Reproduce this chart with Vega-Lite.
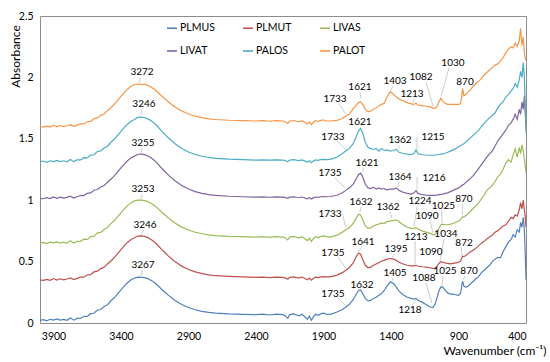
{
  "$schema": "https://vega.github.io/schema/vega-lite/v6.json",
  "width": 486,
  "height": 307,
  "autosize": "none",
  "padding": {"left": 40, "top": 16, "right": 24, "bottom": 39},
  "background": "white",
  "config": {
    "view": {"stroke": "#8c8c8c", "strokeWidth": 1},
    "font": "Lato"
  },
  "datasets": {
    "spectra": [
      {"w":4000,"PLMUS":0.022,"PLMUT":0.350,"LIVAS":0.650,"LIVAT":1.015,"PALOS":1.313,"PALOT":1.598},
      {"w":3975,"PLMUS":0.028,"PLMUT":0.347,"LIVAS":0.656,"LIVAT":1.012,"PALOS":1.319,"PALOT":1.595},
      {"w":3950,"PLMUS":0.018,"PLMUT":0.355,"LIVAS":0.646,"LIVAT":1.020,"PALOS":1.309,"PALOT":1.603},
      {"w":3925,"PLMUS":0.030,"PLMUT":0.348,"LIVAS":0.658,"LIVAT":1.013,"PALOS":1.321,"PALOT":1.596},
      {"w":3900,"PLMUS":0.024,"PLMUT":0.362,"LIVAS":0.652,"LIVAT":1.027,"PALOS":1.315,"PALOT":1.610},
      {"w":3875,"PLMUS":0.033,"PLMUT":0.350,"LIVAS":0.661,"LIVAT":1.015,"PALOS":1.324,"PALOT":1.598},
      {"w":3850,"PLMUS":0.023,"PLMUT":0.360,"LIVAS":0.651,"LIVAT":1.025,"PALOS":1.314,"PALOT":1.608},
      {"w":3825,"PLMUS":0.030,"PLMUT":0.352,"LIVAS":0.658,"LIVAT":1.017,"PALOS":1.321,"PALOT":1.600},
      {"w":3800,"PLMUS":0.022,"PLMUT":0.358,"LIVAS":0.650,"LIVAT":1.023,"PALOS":1.313,"PALOT":1.606},
      {"w":3775,"PLMUS":0.041,"PLMUT":0.367,"LIVAS":0.669,"LIVAT":1.032,"PALOS":1.332,"PALOT":1.615},
      {"w":3750,"PLMUS":0.023,"PLMUT":0.353,"LIVAS":0.651,"LIVAT":1.018,"PALOS":1.314,"PALOT":1.601},
      {"w":3725,"PLMUS":0.037,"PLMUT":0.363,"LIVAS":0.665,"LIVAT":1.028,"PALOS":1.328,"PALOT":1.611},
      {"w":3700,"PLMUS":0.037,"PLMUT":0.373,"LIVAS":0.665,"LIVAT":1.038,"PALOS":1.328,"PALOT":1.621},
      {"w":3675,"PLMUS":0.055,"PLMUT":0.373,"LIVAS":0.683,"LIVAT":1.038,"PALOS":1.346,"PALOT":1.621},
      {"w":3650,"PLMUS":0.053,"PLMUT":0.391,"LIVAS":0.681,"LIVAT":1.056,"PALOS":1.344,"PALOT":1.639},
      {"w":3625,"PLMUS":0.076,"PLMUT":0.394,"LIVAS":0.704,"LIVAT":1.059,"PALOS":1.367,"PALOT":1.642},
      {"w":3600,"PLMUS":0.079,"PLMUT":0.416,"LIVAS":0.707,"LIVAT":1.081,"PALOS":1.370,"PALOT":1.664},
      {"w":3575,"PLMUS":0.106,"PLMUT":0.422,"LIVAS":0.734,"LIVAT":1.087,"PALOS":1.397,"PALOT":1.670},
      {"w":3550,"PLMUS":0.110,"PLMUT":0.443,"LIVAS":0.738,"LIVAT":1.108,"PALOS":1.401,"PALOT":1.691},
      {"w":3525,"PLMUS":0.134,"PLMUT":0.454,"LIVAS":0.762,"LIVAT":1.119,"PALOS":1.425,"PALOT":1.702},
      {"w":3500,"PLMUS":0.149,"PLMUT":0.481,"LIVAS":0.777,"LIVAT":1.146,"PALOS":1.440,"PALOT":1.729},
      {"w":3475,"PLMUS":0.181,"PLMUT":0.505,"LIVAS":0.809,"LIVAT":1.170,"PALOS":1.472,"PALOT":1.753},
      {"w":3450,"PLMUS":0.205,"PLMUT":0.533,"LIVAS":0.833,"LIVAT":1.198,"PALOS":1.496,"PALOT":1.781},
      {"w":3425,"PLMUS":0.237,"PLMUT":0.565,"LIVAS":0.865,"LIVAT":1.230,"PALOS":1.528,"PALOT":1.813},
      {"w":3400,"PLMUS":0.270,"PLMUT":0.598,"LIVAS":0.898,"LIVAT":1.263,"PALOS":1.561,"PALOT":1.846},
      {"w":3375,"PLMUS":0.302,"PLMUT":0.630,"LIVAS":0.930,"LIVAT":1.295,"PALOS":1.593,"PALOT":1.878},
      {"w":3350,"PLMUS":0.330,"PLMUT":0.658,"LIVAS":0.958,"LIVAT":1.323,"PALOS":1.621,"PALOT":1.906},
      {"w":3325,"PLMUS":0.352,"PLMUT":0.680,"LIVAS":0.980,"LIVAT":1.345,"PALOS":1.643,"PALOT":1.928},
      {"w":3300,"PLMUS":0.366,"PLMUT":0.694,"LIVAS":0.994,"LIVAT":1.359,"PALOS":1.657,"PALOT":1.942},
      {"w":3275,"PLMUS":0.373,"PLMUT":0.708,"LIVAS":1.000,"LIVAT":1.374,"PALOS":1.676,"PALOT":1.946},
      {"w":3250,"PLMUS":0.372,"PLMUT":0.709,"LIVAS":1.001,"LIVAT":1.375,"PALOS":1.677,"PALOT":1.944},
      {"w":3225,"PLMUS":0.370,"PLMUT":0.705,"LIVAS":0.997,"LIVAT":1.371,"PALOS":1.673,"PALOT":1.943},
      {"w":3200,"PLMUS":0.361,"PLMUT":0.695,"LIVAS":0.988,"LIVAT":1.360,"PALOS":1.662,"PALOT":1.934},
      {"w":3175,"PLMUS":0.346,"PLMUT":0.678,"LIVAS":0.973,"LIVAT":1.343,"PALOS":1.645,"PALOT":1.919},
      {"w":3150,"PLMUS":0.327,"PLMUT":0.658,"LIVAS":0.955,"LIVAT":1.322,"PALOS":1.624,"PALOT":1.901},
      {"w":3125,"PLMUS":0.303,"PLMUT":0.631,"LIVAS":0.931,"LIVAT":1.294,"PALOS":1.596,"PALOT":1.877},
      {"w":3100,"PLMUS":0.275,"PLMUT":0.600,"LIVAS":0.904,"LIVAT":1.262,"PALOS":1.564,"PALOT":1.850},
      {"w":3075,"PLMUS":0.251,"PLMUT":0.574,"LIVAS":0.880,"LIVAT":1.234,"PALOS":1.536,"PALOT":1.826},
      {"w":3050,"PLMUS":0.227,"PLMUT":0.547,"LIVAS":0.856,"LIVAT":1.206,"PALOS":1.508,"PALOT":1.802},
      {"w":3025,"PLMUS":0.205,"PLMUT":0.523,"LIVAS":0.835,"LIVAT":1.182,"PALOS":1.484,"PALOT":1.780},
      {"w":3000,"PLMUS":0.184,"PLMUT":0.500,"LIVAS":0.814,"LIVAT":1.158,"PALOS":1.460,"PALOT":1.759},
      {"w":2950,"PLMUS":0.150,"PLMUT":0.463,"LIVAS":0.781,"LIVAT":1.119,"PALOS":1.421,"PALOT":1.726},
      {"w":2900,"PLMUS":0.126,"PLMUT":0.436,"LIVAS":0.757,"LIVAT":1.091,"PALOS":1.393,"PALOT":1.702},
      {"w":2850,"PLMUS":0.108,"PLMUT":0.416,"LIVAS":0.739,"LIVAT":1.070,"PALOS":1.372,"PALOT":1.684},
      {"w":2800,"PLMUS":0.095,"PLMUT":0.402,"LIVAS":0.727,"LIVAT":1.056,"PALOS":1.358,"PALOT":1.672},
      {"w":2750,"PLMUS":0.086,"PLMUT":0.392,"LIVAS":0.718,"LIVAT":1.046,"PALOS":1.348,"PALOT":1.663},
      {"w":2700,"PLMUS":0.080,"PLMUT":0.385,"LIVAS":0.712,"LIVAT":1.039,"PALOS":1.341,"PALOT":1.657},
      {"w":2600,"PLMUS":0.074,"PLMUT":0.379,"LIVAS":0.706,"LIVAT":1.032,"PALOS":1.334,"PALOT":1.651},
      {"w":2500,"PLMUS":0.071,"PLMUT":0.375,"LIVAS":0.703,"LIVAT":1.028,"PALOS":1.330,"PALOT":1.648},
      {"w":2400,"PLMUS":0.068,"PLMUT":0.372,"LIVAS":0.700,"LIVAT":1.025,"PALOS":1.327,"PALOT":1.645},
      {"w":2350,"PLMUS":0.072,"PLMUT":0.374,"LIVAS":0.704,"LIVAT":1.027,"PALOS":1.329,"PALOT":1.648},
      {"w":2300,"PLMUS":0.065,"PLMUT":0.370,"LIVAS":0.698,"LIVAT":1.024,"PALOS":1.326,"PALOT":1.643},
      {"w":2250,"PLMUS":0.072,"PLMUT":0.374,"LIVAS":0.704,"LIVAT":1.027,"PALOS":1.329,"PALOT":1.648},
      {"w":2200,"PLMUS":0.068,"PLMUT":0.372,"LIVAS":0.700,"LIVAT":1.025,"PALOS":1.327,"PALOT":1.645},
      {"w":2180,"PLMUS":0.056,"PLMUT":0.366,"LIVAS":0.690,"LIVAT":1.021,"PALOS":1.321,"PALOT":1.637},
      {"w":2165,"PLMUS":0.038,"PLMUT":0.356,"LIVAS":0.676,"LIVAT":1.015,"PALOS":1.313,"PALOT":1.625},
      {"w":2150,"PLMUS":0.068,"PLMUT":0.372,"LIVAS":0.700,"LIVAT":1.025,"PALOS":1.327,"PALOT":1.645},
      {"w":2120,"PLMUS":0.074,"PLMUT":0.375,"LIVAS":0.705,"LIVAT":1.027,"PALOS":1.330,"PALOT":1.649},
      {"w":2100,"PLMUS":0.065,"PLMUT":0.370,"LIVAS":0.698,"LIVAT":1.024,"PALOS":1.326,"PALOT":1.643},
      {"w":2080,"PLMUS":0.059,"PLMUT":0.367,"LIVAS":0.693,"LIVAT":1.022,"PALOS":1.323,"PALOT":1.639},
      {"w":2060,"PLMUS":0.071,"PLMUT":0.374,"LIVAS":0.702,"LIVAT":1.026,"PALOS":1.328,"PALOT":1.647},
      {"w":2040,"PLMUS":0.053,"PLMUT":0.364,"LIVAS":0.688,"LIVAT":1.020,"PALOS":1.320,"PALOT":1.635},
      {"w":2020,"PLMUS":0.030,"PLMUT":0.352,"LIVAS":0.670,"LIVAT":1.012,"PALOS":1.310,"PALOT":1.620},
      {"w":2005,"PLMUS":0.056,"PLMUT":0.366,"LIVAS":0.690,"LIVAT":1.021,"PALOS":1.321,"PALOT":1.637},
      {"w":1990,"PLMUS":0.023,"PLMUT":0.348,"LIVAS":0.664,"LIVAT":1.010,"PALOS":1.306,"PALOT":1.615},
      {"w":1975,"PLMUS":0.050,"PLMUT":0.362,"LIVAS":0.686,"LIVAT":1.019,"PALOS":1.319,"PALOT":1.633},
      {"w":1960,"PLMUS":0.071,"PLMUT":0.374,"LIVAS":0.702,"LIVAT":1.026,"PALOS":1.328,"PALOT":1.647},
      {"w":1940,"PLMUS":0.062,"PLMUT":0.369,"LIVAS":0.695,"LIVAT":1.023,"PALOS":1.324,"PALOT":1.641},
      {"w":1920,"PLMUS":0.075,"PLMUT":0.376,"LIVAS":0.706,"LIVAT":1.028,"PALOS":1.331,"PALOT":1.650},
      {"w":1900,"PLMUS":0.080,"PLMUT":0.378,"LIVAS":0.710,"LIVAT":1.029,"PALOS":1.333,"PALOT":1.653},
      {"w":1880,"PLMUS":0.072,"PLMUT":0.375,"LIVAS":0.703,"LIVAT":1.028,"PALOS":1.330,"PALOT":1.646},
      {"w":1850,"PLMUS":0.070,"PLMUT":0.375,"LIVAS":0.700,"LIVAT":1.030,"PALOS":1.333,"PALOT":1.645},
      {"w":1800,"PLMUS":0.090,"PLMUT":0.390,"LIVAS":0.715,"LIVAT":1.040,"PALOS":1.350,"PALOT":1.650},
      {"w":1760,"PLMUS":0.110,"PLMUT":0.410,"LIVAS":0.740,"LIVAT":1.060,"PALOS":1.380,"PALOT":1.665},
      {"w":1735,"PLMUS":0.130,"PLMUT":0.430,"LIVAS":0.760,"LIVAT":1.080,"PALOS":1.400,"PALOT":1.685},
      {"w":1710,"PLMUS":0.150,"PLMUT":0.450,"LIVAS":0.775,"LIVAT":1.100,"PALOS":1.420,"PALOT":1.700},
      {"w":1680,"PLMUS":0.190,"PLMUT":0.490,"LIVAS":0.810,"LIVAT":1.130,"PALOS":1.460,"PALOT":1.745},
      {"w":1660,"PLMUS":0.230,"PLMUT":0.535,"LIVAS":0.850,"LIVAT":1.170,"PALOS":1.510,"PALOT":1.770},
      {"w":1640,"PLMUS":0.265,"PLMUT":0.570,"LIVAS":0.885,"LIVAT":1.210,"PALOS":1.565,"PALOT":1.795},
      {"w":1625,"PLMUS":0.270,"PLMUT":0.560,"LIVAS":0.880,"LIVAT":1.220,"PALOS":1.585,"PALOT":1.800},
      {"w":1610,"PLMUS":0.240,"PLMUT":0.520,"LIVAS":0.840,"LIVAT":1.190,"PALOS":1.550,"PALOT":1.780},
      {"w":1590,"PLMUS":0.200,"PLMUT":0.470,"LIVAS":0.790,"LIVAT":1.130,"PALOS":1.470,"PALOT":1.740},
      {"w":1570,"PLMUS":0.180,"PLMUT":0.450,"LIVAS":0.770,"LIVAT":1.100,"PALOS":1.430,"PALOT":1.720},
      {"w":1550,"PLMUS":0.185,"PLMUT":0.455,"LIVAS":0.775,"LIVAT":1.095,"PALOS":1.420,"PALOT":1.725},
      {"w":1530,"PLMUS":0.200,"PLMUT":0.470,"LIVAS":0.790,"LIVAT":1.105,"PALOS":1.415,"PALOT":1.740},
      {"w":1510,"PLMUS":0.210,"PLMUT":0.480,"LIVAS":0.800,"LIVAT":1.090,"PALOS":1.420,"PALOT":1.750},
      {"w":1490,"PLMUS":0.225,"PLMUT":0.490,"LIVAS":0.805,"LIVAT":1.100,"PALOS":1.400,"PALOT":1.770},
      {"w":1470,"PLMUS":0.240,"PLMUT":0.505,"LIVAS":0.815,"LIVAT":1.090,"PALOS":1.420,"PALOT":1.780},
      {"w":1450,"PLMUS":0.265,"PLMUT":0.510,"LIVAS":0.810,"LIVAT":1.095,"PALOS":1.405,"PALOT":1.790},
      {"w":1430,"PLMUS":0.300,"PLMUT":0.520,"LIVAS":0.825,"LIVAT":1.085,"PALOS":1.410,"PALOT":1.840},
      {"w":1405,"PLMUS":0.335,"PLMUT":0.525,"LIVAS":0.830,"LIVAT":1.090,"PALOS":1.400,"PALOT":1.885},
      {"w":1380,"PLMUS":0.320,"PLMUT":0.520,"LIVAS":0.835,"LIVAT":1.090,"PALOS":1.405,"PALOT":1.860},
      {"w":1360,"PLMUS":0.290,"PLMUT":0.510,"LIVAS":0.840,"LIVAT":1.100,"PALOS":1.415,"PALOT":1.840},
      {"w":1340,"PLMUS":0.260,"PLMUT":0.495,"LIVAS":0.825,"LIVAT":1.080,"PALOS":1.390,"PALOT":1.825},
      {"w":1310,"PLMUS":0.230,"PLMUT":0.480,"LIVAS":0.800,"LIVAT":1.065,"PALOS":1.380,"PALOT":1.810},
      {"w":1280,"PLMUS":0.210,"PLMUT":0.470,"LIVAS":0.780,"LIVAT":1.055,"PALOS":1.375,"PALOT":1.795},
      {"w":1250,"PLMUS":0.200,"PLMUT":0.465,"LIVAS":0.770,"LIVAT":1.050,"PALOS":1.372,"PALOT":1.785},
      {"w":1230,"PLMUS":0.195,"PLMUT":0.465,"LIVAS":0.770,"LIVAT":1.060,"PALOS":1.380,"PALOT":1.780},
      {"w":1215,"PLMUS":0.200,"PLMUT":0.470,"LIVAS":0.775,"LIVAT":1.078,"PALOS":1.410,"PALOT":1.790},
      {"w":1200,"PLMUS":0.185,"PLMUT":0.462,"LIVAS":0.765,"LIVAT":1.055,"PALOS":1.378,"PALOT":1.775},
      {"w":1170,"PLMUS":0.170,"PLMUT":0.458,"LIVAS":0.750,"LIVAT":1.045,"PALOS":1.370,"PALOT":1.770},
      {"w":1140,"PLMUS":0.150,"PLMUT":0.455,"LIVAS":0.740,"LIVAT":1.042,"PALOS":1.368,"PALOT":1.765},
      {"w":1110,"PLMUS":0.130,"PLMUT":0.450,"LIVAS":0.730,"LIVAT":1.040,"PALOS":1.366,"PALOT":1.760},
      {"w":1090,"PLMUS":0.125,"PLMUT":0.445,"LIVAS":0.720,"LIVAT":1.040,"PALOS":1.366,"PALOT":1.750},
      {"w":1075,"PLMUS":0.150,"PLMUT":0.445,"LIVAS":0.720,"LIVAT":1.040,"PALOS":1.368,"PALOT":1.748},
      {"w":1060,"PLMUS":0.200,"PLMUT":0.460,"LIVAS":0.735,"LIVAT":1.042,"PALOS":1.370,"PALOT":1.760},
      {"w":1045,"PLMUS":0.260,"PLMUT":0.485,"LIVAS":0.770,"LIVAT":1.045,"PALOS":1.372,"PALOT":1.800},
      {"w":1030,"PLMUS":0.295,"PLMUT":0.500,"LIVAS":0.800,"LIVAT":1.048,"PALOS":1.375,"PALOT":1.830},
      {"w":1015,"PLMUS":0.290,"PLMUT":0.495,"LIVAS":0.805,"LIVAT":1.050,"PALOS":1.378,"PALOT":1.805},
      {"w":1000,"PLMUS":0.270,"PLMUT":0.490,"LIVAS":0.800,"LIVAT":1.055,"PALOS":1.380,"PALOT":1.790},
      {"w":980,"PLMUS":0.245,"PLMUT":0.485,"LIVAS":0.800,"LIVAT":1.060,"PALOS":1.390,"PALOT":1.780},
      {"w":960,"PLMUS":0.235,"PLMUT":0.482,"LIVAS":0.805,"LIVAT":1.070,"PALOS":1.400,"PALOT":1.780},
      {"w":940,"PLMUS":0.235,"PLMUT":0.485,"LIVAS":0.810,"LIVAT":1.080,"PALOS":1.410,"PALOT":1.780},
      {"w":920,"PLMUS":0.230,"PLMUT":0.490,"LIVAS":0.820,"LIVAT":1.090,"PALOS":1.420,"PALOT":1.780},
      {"w":900,"PLMUS":0.225,"PLMUT":0.495,"LIVAS":0.830,"LIVAT":1.100,"PALOS":1.435,"PALOT":1.780},
      {"w":885,"PLMUS":0.240,"PLMUT":0.505,"LIVAS":0.840,"LIVAT":1.110,"PALOS":1.445,"PALOT":1.785},
      {"w":875,"PLMUS":0.310,"PLMUT":0.530,"LIVAS":0.860,"LIVAT":1.120,"PALOS":1.450,"PALOT":1.850},
      {"w":870,"PLMUS":0.340,"PLMUT":0.545,"LIVAS":0.865,"LIVAT":1.125,"PALOS":1.455,"PALOT":1.910},
      {"w":860,"PLMUS":0.300,"PLMUT":0.540,"LIVAS":0.865,"LIVAT":1.130,"PALOS":1.460,"PALOT":1.850},
      {"w":845,"PLMUS":0.290,"PLMUT":0.550,"LIVAS":0.875,"LIVAT":1.145,"PALOS":1.475,"PALOT":1.860},
      {"w":830,"PLMUS":0.300,"PLMUT":0.565,"LIVAS":0.890,"LIVAT":1.160,"PALOS":1.490,"PALOT":1.880},
      {"w":810,"PLMUS":0.320,"PLMUT":0.580,"LIVAS":0.910,"LIVAT":1.180,"PALOS":1.510,"PALOT":1.900},
      {"w":790,"PLMUS":0.340,"PLMUT":0.595,"LIVAS":0.935,"LIVAT":1.200,"PALOS":1.530,"PALOT":1.930},
      {"w":770,"PLMUS":0.360,"PLMUT":0.610,"LIVAS":0.955,"LIVAT":1.230,"PALOS":1.550,"PALOT":1.950},
      {"w":750,"PLMUS":0.380,"PLMUT":0.630,"LIVAS":0.980,"LIVAT":1.260,"PALOS":1.570,"PALOT":1.970},
      {"w":730,"PLMUS":0.410,"PLMUT":0.650,"LIVAS":1.010,"LIVAT":1.290,"PALOS":1.600,"PALOT":1.990},
      {"w":710,"PLMUS":0.430,"PLMUT":0.665,"LIVAS":1.040,"LIVAT":1.320,"PALOS":1.625,"PALOT":2.020},
      {"w":690,"PLMUS":0.450,"PLMUT":0.685,"LIVAS":1.080,"LIVAT":1.350,"PALOS":1.650,"PALOT":2.040},
      {"w":670,"PLMUS":0.470,"PLMUT":0.700,"LIVAS":1.100,"LIVAT":1.380,"PALOS":1.670,"PALOT":2.060},
      {"w":650,"PLMUS":0.500,"PLMUT":0.715,"LIVAS":1.120,"LIVAT":1.400,"PALOS":1.690,"PALOT":2.080},
      {"w":630,"PLMUS":0.520,"PLMUT":0.740,"LIVAS":1.150,"LIVAT":1.440,"PALOS":1.710,"PALOT":2.100},
      {"w":610,"PLMUS":0.535,"PLMUT":0.750,"LIVAS":1.190,"LIVAT":1.480,"PALOS":1.750,"PALOT":2.110},
      {"w":590,"PLMUS":0.530,"PLMUT":0.770,"LIVAS":1.210,"LIVAT":1.510,"PALOS":1.780,"PALOT":2.130},
      {"w":570,"PLMUS":0.580,"PLMUT":0.790,"LIVAS":1.250,"LIVAT":1.540,"PALOS":1.800,"PALOT":2.160},
      {"w":550,"PLMUS":0.620,"PLMUT":0.800,"LIVAS":1.300,"LIVAT":1.570,"PALOS":1.840,"PALOT":2.200},
      {"w":530,"PLMUS":0.660,"PLMUT":0.830,"LIVAS":1.330,"LIVAT":1.610,"PALOS":1.860,"PALOT":2.230},
      {"w":510,"PLMUS":0.680,"PLMUT":0.860,"LIVAS":1.310,"LIVAT":1.630,"PALOS":1.890,"PALOT":2.250},
      {"w":495,"PLMUS":0.720,"PLMUT":0.850,"LIVAS":1.370,"LIVAT":1.660,"PALOS":1.910,"PALOT":2.240},
      {"w":480,"PLMUS":0.700,"PLMUT":0.880,"LIVAS":1.420,"LIVAT":1.700,"PALOS":1.950,"PALOT":2.280},
      {"w":465,"PLMUS":0.760,"PLMUT":0.870,"LIVAS":1.350,"LIVAT":1.660,"PALOS":1.920,"PALOT":2.250},
      {"w":450,"PLMUS":0.740,"PLMUT":0.920,"LIVAS":1.430,"LIVAT":1.740,"PALOS":1.980,"PALOT":2.300},
      {"w":440,"PLMUS":0.820,"PLMUT":0.980,"LIVAS":1.380,"LIVAT":1.700,"PALOS":2.050,"PALOT":2.400},
      {"w":430,"PLMUS":0.780,"PLMUT":0.930,"LIVAS":1.450,"LIVAT":1.800,"PALOS":2.000,"PALOT":2.260},
      {"w":420,"PLMUS":0.860,"PLMUT":1.000,"LIVAS":1.400,"LIVAT":1.740,"PALOS":2.120,"PALOT":2.330},
      {"w":412,"PLMUS":0.750,"PLMUT":0.920,"LIVAS":1.330,"LIVAT":1.850,"PALOS":2.000,"PALOT":2.200},
      {"w":405,"PLMUS":0.550,"PLMUT":0.860,"LIVAS":1.280,"LIVAT":1.700,"PALOS":1.750,"PALOT":2.150},
      {"w":400,"PLMUS":0.350,"PLMUT":0.780,"LIVAS":1.220,"LIVAT":1.600,"PALOS":1.550,"PALOT":2.140}
    ],
    "labels": [
      {"t":"3272","w":3244,"a":2.044},
      {"t":"3246","w":3230,"a":1.783},
      {"t":"3255","w":3237,"a":1.466},
      {"t":"3253","w":3237,"a":1.091},
      {"t":"3246","w":3222,"a":0.798},
      {"t":"3267","w":3237,"a":0.472},
      {"t":"1733","w":1815,"a":1.824},
      {"t":"1621","w":1630,"a":1.922},
      {"t":"1403","w":1370,"a":1.971},
      {"t":"1213","w":1244,"a":1.865},
      {"t":"1082","w":1178,"a":2.003},
      {"t":"1030","w":941,"a":2.117},
      {"t":"870","w":852,"a":1.963},
      {"t":"1621","w":1630,"a":1.637},
      {"t":"1733","w":1830,"a":1.515},
      {"t":"1362","w":1333,"a":1.490},
      {"t":"1215","w":1089,"a":1.515},
      {"t":"1621","w":1578,"a":1.303},
      {"t":"1735","w":1852,"a":1.221},
      {"t":"1364","w":1333,"a":1.189},
      {"t":"1216","w":1081,"a":1.181},
      {"t":"1632","w":1622,"a":0.985},
      {"t":"1362","w":1422,"a":0.945},
      {"t":"1224","w":1185,"a":0.993},
      {"t":"1025","w":1012,"a":0.955},
      {"t":"870","w":860,"a":1.010},
      {"t":"1090","w":1133,"a":0.871},
      {"t":"1733","w":1852,"a":0.888},
      {"t":"1641","w":1607,"a":0.660},
      {"t":"1395","w":1363,"a":0.603},
      {"t":"1213","w":1215,"a":0.700},
      {"t":"1034","w":993,"a":0.725},
      {"t":"1090","w":1104,"a":0.578},
      {"t":"872","w":859,"a":0.651},
      {"t":"1735","w":1830,"a":0.570},
      {"t":"1632","w":1615,"a":0.309},
      {"t":"1405","w":1370,"a":0.407},
      {"t":"1088","w":1156,"a":0.366},
      {"t":"1025","w":1000,"a":0.423},
      {"t":"870","w":822,"a":0.423},
      {"t":"1735","w":1830,"a":0.236},
      {"t":"1218","w":1259,"a":0.106}
    ],
    "leaders": [
      {"w1":3259,"a1":1.995,"w2":3267,"a2":1.954},
      {"w1":1785,"a1":1.783,"w2":1733,"a2":1.700},
      {"w1":1630,"a1":1.881,"w2":1622,"a2":1.832},
      {"w1":1385,"a1":1.930,"w2":1400,"a2":1.895},
      {"w1":1237,"a1":1.824,"w2":1230,"a2":1.800},
      {"w1":1141,"a1":1.963,"w2":1089,"a2":1.767},
      {"w1":970,"a1":2.077,"w2":1030,"a2":1.845},
      {"w1":3244,"a1":1.743,"w2":3252,"a2":1.694},
      {"w1":1800,"a1":1.482,"w2":1733,"a2":1.410},
      {"w1":1341,"a1":1.449,"w2":1341,"a2":1.420},
      {"w1":1207,"a1":1.515,"w2":1207,"a2":1.415},
      {"w1":3244,"a1":1.425,"w2":3252,"a2":1.382},
      {"w1":1815,"a1":1.181,"w2":1741,"a2":1.100},
      {"w1":1600,"a1":1.262,"w2":1615,"a2":1.230},
      {"w1":1341,"a1":1.148,"w2":1348,"a2":1.110},
      {"w1":1207,"a1":1.190,"w2":1207,"a2":1.085},
      {"w1":3244,"a1":1.050,"w2":3252,"a2":1.008},
      {"w1":1756,"a1":0.871,"w2":1733,"a2":0.775},
      {"w1":1622,"a1":0.945,"w2":1630,"a2":0.905},
      {"w1":1407,"a1":0.904,"w2":1393,"a2":0.855},
      {"w1":1205,"a1":0.950,"w2":1230,"a2":0.790},
      {"w1":1111,"a1":0.831,"w2":1089,"a2":0.735},
      {"w1":1025,"a1":0.915,"w2":1022,"a2":0.815},
      {"w1":870,"a1":0.969,"w2":872,"a2":0.880},
      {"w1":3230,"a1":0.757,"w2":3252,"a2":0.715},
      {"w1":1793,"a1":0.537,"w2":1735,"a2":0.445},
      {"w1":1615,"a1":0.619,"w2":1644,"a2":0.578},
      {"w1":1370,"a1":0.562,"w2":1393,"a2":0.530},
      {"w1":1222,"a1":0.668,"w2":1222,"a2":0.480},
      {"w1":1007,"a1":0.684,"w2":1037,"a2":0.505},
      {"w1":881,"a1":0.619,"w2":874,"a2":0.550},
      {"w1":3244,"a1":0.432,"w2":3252,"a2":0.383},
      {"w1":1793,"a1":0.204,"w2":1735,"a2":0.140},
      {"w1":1385,"a1":0.366,"w2":1393,"a2":0.340},
      {"w1":1244,"a1":0.147,"w2":1207,"a2":0.195},
      {"w1":1141,"a1":0.326,"w2":1096,"a2":0.160},
      {"w1":1015,"a1":0.383,"w2":1022,"a2":0.300},
      {"w1":852,"a1":0.383,"w2":867,"a2":0.350}
    ]
  },
  "layer": [
    {
      "data": {"name": "spectra"},
      "transform": [{"fold": ["PLMUS","PLMUT","LIVAS","LIVAT","PALOS","PALOT"], "as": ["series","abs"]}],
      "mark": {"type": "line", "strokeWidth": 1.2, "clip": true},
      "encoding": {
        "x": {
          "field": "w", "type": "quantitative",
          "scale": {"domain": [400, 4000], "reverse": true, "nice": false, "zero": false},
          "axis": {
            "values": [3900, 3400, 2900, 2400, 1900, 1400, 900, 400],
            "format": "d", "grid": false, "ticks": false, "domain": false,
            "labelPadding": 8, "labelFontSize": 10.5, "labelFont": "Lato", "labelColor": "#000",
            "title": "Wavenumber (cm⁻¹)", "titleFont": "Lato", "titleFontSize": 12, "titleFontWeight": "normal",
            "titleColor": "#000", "titleAlign": "right", "titleBaseline": "middle", "titleX": 506, "titleY": 27
          }
        },
        "y": {
          "field": "abs", "type": "quantitative",
          "scale": {"domain": [0, 2.5], "nice": false},
          "axis": {
            "values": [0, 0.5, 1, 1.5, 2, 2.5], "format": "~g",
            "grid": false, "ticks": false, "domain": false,
            "labelPadding": 7, "labelFontSize": 10.5, "labelFont": "Lato", "labelColor": "#000",
            "title": "Absorbance", "titleFont": "Lato", "titleFontSize": 12, "titleFontWeight": "normal",
            "titleColor": "#000", "titleX": -25, "titleY": 40, "titleAlign": "center", "titleBaseline": "middle"
          }
        },
        "color": {
          "field": "series", "type": "nominal",
          "scale": {
            "domain": ["PLMUS","LIVAT","PLMUT","PALOS","LIVAS","PALOT"],
            "range": ["#4F81BD","#8064A2","#C0504D","#4BACC6","#9BBB59","#F79646"]
          },
          "legend": {
            "orient": "none", "legendX": 126, "legendY": 6, "columns": 3,
            "title": null, "symbolType": "stroke", "symbolSize": 100, "symbolStrokeWidth": 1.6,
            "labelFont": "Lato", "labelFontSize": 10.5, "labelColor": "#000", "labelOffset": 2,
            "columnPadding": 24, "rowPadding": 11
          }
        },
        "order": {"field": "w", "type": "quantitative"}
      }
    },
    {
      "data": {"name": "leaders"},
      "mark": {"type": "rule", "color": "#bfbfbf", "strokeWidth": 0.8},
      "encoding": {
        "x": {"field": "w1", "type": "quantitative"},
        "x2": {"field": "w2"},
        "y": {"field": "a1", "type": "quantitative"},
        "y2": {"field": "a2"}
      }
    },
    {
      "data": {"name": "labels"},
      "mark": {"type": "text", "font": "Lato", "fontSize": 10, "color": "#000", "align": "center", "baseline": "middle"},
      "encoding": {
        "x": {"field": "w", "type": "quantitative"},
        "y": {"field": "a", "type": "quantitative"},
        "text": {"field": "t"}
      }
    }
  ]
}
